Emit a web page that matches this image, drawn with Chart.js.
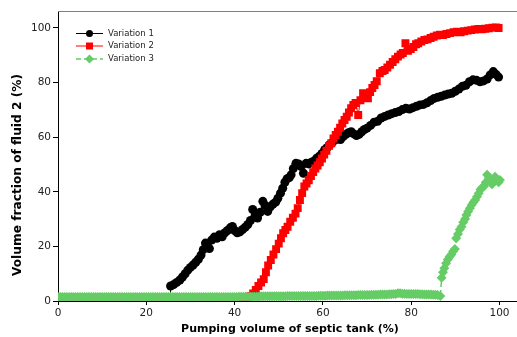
<!DOCTYPE html>
<html>
<head>
<meta charset="utf-8">
<script src="https://cdn.jsdelivr.net/npm/chart.js@4"></script>
<style>
  body { margin: 0; background: #fff; }
  canvas { display: block; }
</style>
</head>
<body>
<canvas id="chart" width="517" height="337"></canvas>
<script>
// tick labels
const xTicks = [0, 20, 40, 60, 80, 100];
const yTicks = [0, 20, 40, 60, 80, 100];

const seriesNames = ["Variation 1", "Variation 2", "Variation 3"];
const xTitle = "Pumping volume of septic tank (%)";
const yTitle = "Volume fraction of fluid 2 (%)";

// Variation 1 (black circles)
const v1X = [25.5, 25.5, 26.2, 26.9, 27.6, 28.2, 28.8, 29.4, 30.0, 30.6, 31.2, 31.8, 32.4, 32.9, 33.4, 33.9, 34.3, 34.8, 35.4, 36.0,
  36.6, 37.2, 37.8, 38.4, 39.0, 39.5, 40.0, 40.6, 41.2, 41.8, 42.4, 43.0, 43.6, 44.1, 44.6, 45.2, 45.8, 46.4, 46.9, 47.5,
  48.1, 48.7, 49.3, 49.8, 50.4, 50.9, 51.4, 51.9, 52.4, 52.8, 53.3, 53.9, 54.5, 55.0, 55.6, 56.2, 56.8, 57.4, 58.0, 58.6,
  59.2, 59.8, 60.4, 61.0, 61.6, 62.2, 62.8, 63.4, 64.0, 64.6, 65.2, 65.8, 66.4, 67.0, 67.6, 68.2, 68.8, 69.4, 70.0, 70.8,
  71.6, 72.4, 73.2, 74.0, 74.8, 75.6, 76.4, 77.2, 78.0, 78.8, 79.6, 80.4, 81.2, 82.0, 82.8, 83.6, 84.4, 85.2, 86.0, 86.8,
  87.6, 88.4, 89.2, 90.0, 90.8, 91.6, 92.4, 93.2, 94.0, 94.8, 95.6, 96.4, 97.2, 97.9, 98.6, 99.2, 99.8];
const v1Y = [0, 5.5, 6.0, 6.8, 7.7, 8.8, 10.0, 11.3, 12.3, 13.2, 14.2, 15.3, 16.8, 18.8, 21.2, 20.0, 19.2, 22.3, 23.4, 23.0,
  24.3, 23.5, 25.0, 25.8, 26.8, 27.3, 25.8, 25.0, 25.3, 26.2, 27.0, 28.0, 29.5, 33.5, 31.0, 30.4, 32.5, 36.5, 35.0, 32.8,
  34.5, 35.5, 36.2, 37.6, 39.5, 41.3, 43.5, 44.8, 45.2, 46.2, 48.5, 50.4, 50.2, 49.3, 46.8, 50.4, 50.2, 50.8, 51.3, 52.3,
  53.0, 54.0, 55.4, 56.2, 57.3, 58.2, 59.0, 59.3, 59.1, 60.2, 61.0, 61.6, 62.0, 61.2, 60.6, 61.0, 62.0, 62.8, 63.3, 64.3,
  65.5, 65.8, 67.0, 67.6, 68.1, 68.6, 69.0, 69.4, 70.1, 70.6, 70.3, 70.8, 71.3, 71.8, 72.0, 72.6, 73.4, 74.2, 74.6, 75.0,
  75.4, 75.8, 76.1, 76.8, 77.6, 78.6, 79.0, 80.3, 81.0, 80.8, 80.3, 80.6, 81.3, 82.8, 84.0, 83.0, 82.0];

// Variation 2 (red squares)
const v2X = [0, 1, 2, 3, 4, 5, 6, 7, 8, 9, 10, 11, 12, 13, 14, 15, 16, 17, 18, 19, 20, 21, 22, 23, 24, 25, 26, 27, 28, 29,
  30, 31, 32, 33, 34, 35, 36, 37, 38, 39, 40, 41, 42, 43.0, 43.6, 44.2, 44.8, 45.4, 46.0, 46.6, 47.1, 47.6, 48.2, 48.8,
  49.4, 50.0, 50.5, 51.0, 51.5, 52.0, 52.6, 53.2, 53.8, 54.3, 54.8, 55.3, 55.8, 56.3, 56.8, 57.3, 57.8, 58.3, 58.8, 59.3,
  59.8, 60.3, 60.8, 61.4, 61.9, 62.4, 62.9, 63.4, 63.9, 64.4, 64.9, 65.4, 65.9, 66.4, 66.9, 67.4, 68.0, 68.5, 69.1, 69.6,
  70.2, 70.7, 71.2, 71.7, 72.2, 72.9, 73.5, 74.0, 74.6, 75.2, 75.8, 76.4, 77.0, 77.6, 78.1, 78.7, 79.3, 79.9, 80.5, 81.1,
  81.6, 82.3, 83.0, 83.7, 84.4, 85.1, 85.8, 86.5, 87.2, 88.0, 88.8, 89.6, 90.4, 91.2, 92.0, 92.8, 93.6, 94.4, 95.2, 96.0,
  96.8, 97.6, 98.4, 99.2, 99.8];
const v2Y = [0, 0, 0, 0, 0, 0, 0, 0, 0, 0, 0, 0, 0, 0, 0, 0, 0, 0, 0, 0, 0, 0, 0, 0, 0, 0, 0, 0, 0, 0,
  0, 0, 0, 0, 0, 0, 0, 0, 0, 0, 0, 0, 0, 0.5, 1.8, 2.8, 4.0, 5.5, 6.8, 8.0, 10.5, 13.0, 15.0, 17.0,
  19.0, 21.0, 23.0, 24.8, 26.0, 27.2, 29.0, 30.5, 32.0, 34.0, 37.0, 39.5, 41.9, 43.0, 44.2, 45.8, 47.2, 48.5, 49.6, 50.8,
  52.2, 53.6, 55.0, 56.8, 57.8, 59.5, 60.8, 62.0, 63.5, 65.0, 66.3, 67.5, 69.0, 70.6, 71.8, 72.5, 68.1, 73.5, 76.1, 75.3,
  74.2, 76.5, 78.0, 79.1, 80.5, 83.4, 84.2, 84.6, 85.5, 86.5, 87.5, 88.5, 89.5, 90.3, 90.8, 94.4, 91.6, 92.3, 93.0, 94.0,
  94.4, 95.0, 95.6, 95.8, 96.3, 96.8, 97.2, 97.5, 97.4, 97.8, 98.1, 98.4, 98.6, 98.4, 98.8, 99.0, 99.2, 99.4, 99.6, 99.5,
  99.7, 99.9, 100.1, 100.2, 100.0];

// Variation 3 (green diamonds)
const v3X = [0, 0.5, 1, 1.5, 2, 2.5, 3, 3.5, 4, 4.5, 5, 5.5, 6, 6.5, 7, 7.5, 8, 8.5, 9, 9.5,
  10, 10.5, 11, 11.5, 12, 12.5, 13, 13.5, 14, 14.5, 15, 15.5, 16, 16.5, 17, 17.5, 18, 18.5, 19, 19.5,
  20, 20.5, 21, 21.5, 22, 22.5, 23, 23.5, 24, 24.5, 25, 25.5, 26, 26.5, 27, 27.5, 28, 28.5, 29, 29.5,
  30, 30.5, 31, 31.5, 32, 32.5, 33, 33.5, 34, 34.5, 35, 35.5, 36, 36.5, 37, 37.5, 38, 38.5, 39, 39.5,
  40, 40.5, 41, 41.5, 42, 42.5, 43, 43.5, 44, 44.5, 45, 45.5, 46, 46.5, 47, 47.5, 48, 48.5, 49, 49.5,
  50, 50.5, 51, 51.5, 52, 52.5, 53, 53.5, 54, 54.5, 55, 55.5, 56, 56.5, 57, 57.5, 58, 58.5, 59, 59.5,
  60, 60.5, 61, 61.5, 62, 62.5, 63, 63.5, 64, 64.5, 65, 65.5, 66, 66.5, 67, 67.5, 68, 68.5, 69, 69.5,
  70, 70.5, 71, 71.5, 72, 72.5, 73, 73.5, 74, 74.5, 75, 75.5, 76, 76.5, 77, 77.5, 78, 78.5, 79, 79.5,
  80, 80.5, 81, 81.5, 82, 82.5, 83, 83.5, 84, 84.5, 85, 85.5, 86, 86.6,
  86.9, 87.2, 87.5, 87.9, 88.3, 88.7, 89.1, 89.5, 89.9, 90.2, 90.6, 91.0, 91.4, 91.8, 92.2, 92.5, 92.9, 93.3, 93.7, 94.1,
  94.5, 94.9, 95.3, 95.7, 96.1, 96.5, 96.9, 97.2, 97.6, 98.0, 98.3, 98.7, 99.0, 99.4, 99.8, 100.1];
const v3Y = [1.5, 1.5, 1.5, 1.5, 1.5, 1.5, 1.5, 1.5, 1.5, 1.5, 1.5, 1.5, 1.5, 1.5, 1.5, 1.5, 1.5, 1.5, 1.5, 1.5,
  1.5, 1.5, 1.5, 1.5, 1.5, 1.5, 1.5, 1.5, 1.5, 1.5, 1.5, 1.5, 1.5, 1.5, 1.5, 1.5, 1.5, 1.5, 1.5, 1.5,
  1.5, 1.5, 1.5, 1.5, 1.5, 1.5, 1.5, 1.5, 1.5, 1.5, 1.5, 1.5, 1.5, 1.5, 1.5, 1.5, 1.5, 1.5, 1.5, 1.5,
  1.5, 1.5, 1.5, 1.5, 1.5, 1.5, 1.5, 1.5, 1.5, 1.5, 1.5, 1.5, 1.5, 1.5, 1.5, 1.5, 1.5, 1.5, 1.5, 1.5,
  1.5, 1.5, 1.6, 1.6, 1.6, 1.6, 1.6, 1.6, 1.6, 1.6, 1.6, 1.6, 1.7, 1.7, 1.7, 1.7, 1.7, 1.7, 1.7, 1.7,
  1.7, 1.7, 1.7, 1.7, 1.8, 1.8, 1.8, 1.8, 1.8, 1.8, 1.8, 1.8, 1.8, 1.8, 1.8, 1.8, 1.8, 1.8, 1.9, 1.9,
  1.9, 1.9, 2.0, 2.0, 2.0, 2.0, 2.0, 2.0, 2.0, 2.0, 2.1, 2.1, 2.1, 2.1, 2.1, 2.1, 2.2, 2.2, 2.2, 2.2,
  2.2, 2.2, 2.3, 2.3, 2.3, 2.3, 2.4, 2.4, 2.4, 2.4, 2.5, 2.5, 2.6, 2.6, 2.8, 2.8, 2.7, 2.7, 2.6, 2.6,
  2.6, 2.6, 2.6, 2.6, 2.5, 2.5, 2.4, 2.4, 2.4, 2.4, 2.3, 2.3, 2.2, 1.8,
  8.5, 10.5, 12.0, 13.8, 15.2, 16.2, 17.0, 18.2, 19.0, 23.0, 24.5, 26.2, 27.2, 28.8, 30.0, 31.5, 32.8, 34.0, 35.2, 36.2,
  37.0, 38.2, 39.5, 40.8, 41.6, 42.0, 43.5, 46.2, 45.0, 44.0, 42.8, 44.8, 45.5, 44.6, 43.5, 44.3];

const toPoints = (xs, ys) => xs.map((x, i) => ({ x: x, y: ys[i] }));

const tickFont = { family: "DejaVu Sans", size: 10.5 };

// legend inside the plot area, frame lines to the edge and both axis titles
const extras = {
    id: "extras",
    afterDraw(chart) {
        const ctx = chart.ctx;
        const area = chart.chartArea;
        ctx.save();
        ctx.strokeStyle = "#808080";
        ctx.lineWidth = 1;
        ctx.beginPath();
        ctx.moveTo(area.left, area.top + 0.5);
        ctx.lineTo(chart.width, area.top + 0.5);
        ctx.stroke();
        ctx.strokeStyle = "#000";
        ctx.beginPath();
        ctx.moveTo(area.right - 1, area.bottom + 0.5);
        ctx.lineTo(chart.width, area.bottom + 0.5);
        ctx.stroke();

        ctx.fillStyle = "#000";
        ctx.font = "bold 11px 'DejaVu Sans'";
        ctx.textAlign = "center";
        ctx.textBaseline = "middle";
        ctx.fillText(xTitle, 290, 329);
        ctx.translate(18, 175);
        ctx.rotate(-Math.PI / 2);
        ctx.font = "bold 12.2px 'DejaVu Sans'";
        ctx.fillText(yTitle, 0, 0);
        ctx.restore();

        ctx.save();
        ctx.font = "8.5px 'DejaVu Sans'";
        ctx.textBaseline = "middle";
        ctx.textAlign = "left";
        const rows = [33.5, 46, 59];
        chart.data.datasets.forEach((ds, i) => {
            const y = rows[i];
            ctx.strokeStyle = ds.borderColor;
            ctx.lineWidth = ds.borderWidth;
            ctx.setLineDash(ds.borderDash || []);
            ctx.beginPath();
            ctx.moveTo(76, y);
            ctx.lineTo(103, y);
            ctx.stroke();
            ctx.setLineDash([]);
            ctx.fillStyle = ds.backgroundColor;
            ctx.beginPath();
            if (ds.pointStyle === "circle") {
                ctx.arc(89.5, y, 3.5, 0, Math.PI * 2);
            } else if (ds.pointStyle === "rect") {
                ctx.rect(86, y - 3.5, 7, 7);
            } else {
                ctx.moveTo(89.5, y - 4.5);
                ctx.lineTo(94, y);
                ctx.lineTo(89.5, y + 4.5);
                ctx.lineTo(85, y);
                ctx.closePath();
            }
            ctx.fill();
            ctx.fillStyle = "#222";
            ctx.fillText(seriesNames[i], 108, y);
        });
        ctx.restore();
    }
};

new Chart(document.getElementById("chart"), {
    type: "scatter",
    data: {
        datasets: [
            {
                label: seriesNames[0],
                data: toPoints(v1X, v1Y),
                showLine: true,
                borderColor: "#000000",
                backgroundColor: "#000000",
                borderWidth: 1,
                pointStyle: "circle",
                pointRadius: 4.5,
                pointBorderWidth: 0,
                order: 3
            },
            {
                label: seriesNames[1],
                data: toPoints(v2X, v2Y),
                showLine: true,
                borderColor: "#ff0000",
                backgroundColor: "#ff0000",
                borderWidth: 1,
                pointStyle: "rect",
                pointRadius: 5.6,
                pointBorderWidth: 0,
                order: 2
            },
            {
                label: seriesNames[2],
                data: toPoints(v3X, v3Y),
                showLine: true,
                borderColor: "#66cc66",
                backgroundColor: "#66cc66",
                borderWidth: 1.5,
                borderDash: [5, 3],
                pointStyle: "rectRot",
                pointRadius: 5,
                pointBorderWidth: 0,
                order: 1
            }
        ]
    },
    options: {
        responsive: false,
        animation: false,
        layout: { padding: { top: 11, right: 0, left: 0, bottom: 0 } },
        plugins: {
            legend: { display: false },
            tooltip: { enabled: false }
        },
        scales: {
            x: {
                type: "linear",
                min: 0,
                max: 102.7,
                afterBuildTicks: (s) => { s.ticks = xTicks.map((v) => ({ value: v })); },
                afterFit: (s) => { s.height = 36; },
                grid: { drawOnChartArea: false, drawTicks: true, tickLength: 4, color: "#000" },
                border: { color: "#000", width: 1 },
                ticks: { font: tickFont, color: "#222", padding: 2, maxRotation: 0 }
            },
            y: {
                type: "linear",
                min: 0,
                max: 106.2,
                afterBuildTicks: (s) => { s.ticks = yTicks.map((v) => ({ value: v })); },
                afterFit: (s) => { s.width = 58; },
                grid: { drawOnChartArea: false, drawTicks: true, tickLength: 5, color: "#000" },
                border: { color: "#000", width: 1 },
                ticks: { font: tickFont, color: "#222", padding: 2 }
            }
        }
    },
    plugins: [extras]
});
</script>
</body>
</html>
